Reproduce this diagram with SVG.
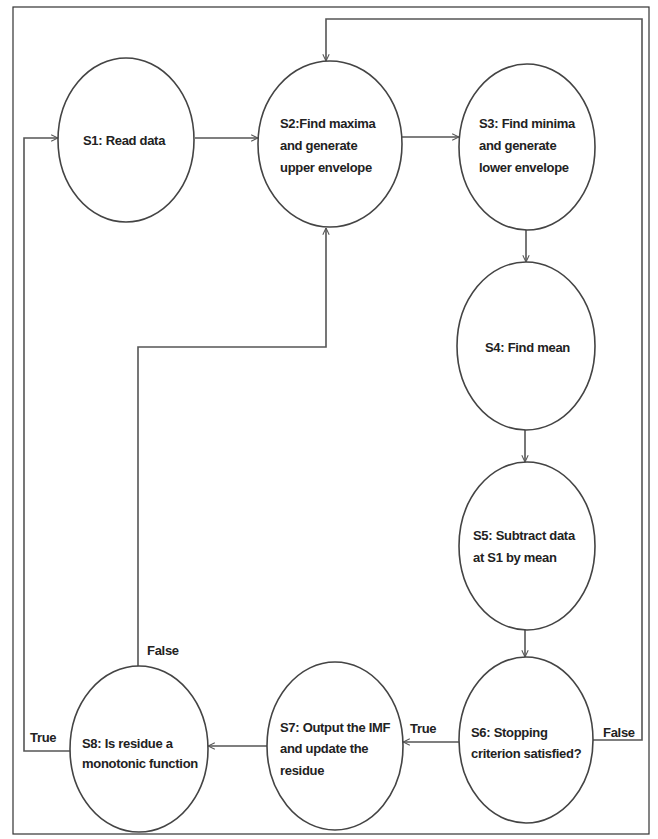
<svg xmlns="http://www.w3.org/2000/svg" width="658" height="839" viewBox="0 0 658 839">
<defs>
<marker id="arr" viewBox="0 0 10 10" refX="9.5" refY="5" markerWidth="8" markerHeight="8" orient="auto" markerUnits="userSpaceOnUse">
<path d="M1,1 L9.5,5 L1,9" fill="none" stroke="#555" stroke-width="1.3"/>
</marker>
</defs>
<style>
.node ellipse{fill:#fff;stroke:#444;stroke-width:1.6}
text{font-family:"Liberation Sans",Arial,sans-serif;font-weight:bold;font-size:13px;letter-spacing:-0.3px;fill:#222}
.conn path{fill:none;stroke:#555;stroke-width:1.6}
</style>
<rect x="0" y="0" width="658" height="839" fill="#fff"/>
<rect x="13" y="7" width="636" height="827" fill="none" stroke="#333" stroke-width="1.2"/>
<g id="connectors" class="conn">
<path d="M195,138 L258,138" marker-end="url(#arr)"/>
<path d="M402,137 L459,137" marker-end="url(#arr)"/>
<path d="M526,230 L526,262" marker-end="url(#arr)"/>
<path d="M525,429 L525,462" marker-end="url(#arr)"/>
<path d="M525,629 L525,657" marker-end="url(#arr)"/>
<path d="M593,740 L642,740 L642,19 L326,19 L326,61" marker-end="url(#arr)"/>
<path d="M459,742 L403,742" marker-end="url(#arr)"/>
<path d="M267,746 L208,746" marker-end="url(#arr)"/>
<path d="M138,667 L138,347 L326,347 L326,228" marker-end="url(#arr)"/>
<path d="M70,751 L24,751 L24,138 L58,138" marker-end="url(#arr)"/>
</g>
<g id="labels">
<text x="603" y="737">False</text>
<text x="410" y="733">True</text>
<text x="30" y="742">True</text>
<text x="147" y="655">False</text>
</g>
<g id="S1" class="node">
<ellipse cx="126" cy="140" rx="68" ry="82"/>
<text x="83" y="145">S1: Read data</text>
</g>
<g id="S2" class="node">
<ellipse cx="330" cy="144" rx="72" ry="83"/>
<text x="280" y="128">S2:Find maxima</text>
<text x="280" y="150">and generate</text>
<text x="280" y="172">upper envelope</text>
</g>
<g id="S3" class="node">
<ellipse cx="527" cy="147" rx="68" ry="83"/>
<text x="479" y="128">S3: Find minima</text>
<text x="479" y="150">and generate</text>
<text x="479" y="172">lower envelope</text>
</g>
<g id="S4" class="node">
<ellipse cx="526" cy="346" rx="69" ry="84"/>
<text x="485" y="352">S4: Find mean</text>
</g>
<g id="S5" class="node">
<ellipse cx="527" cy="546" rx="68" ry="84"/>
<text x="473" y="540">S5: Subtract data</text>
<text x="473" y="562">at S1 by mean</text>
</g>
<g id="S6" class="node">
<ellipse cx="526" cy="740" rx="67" ry="83"/>
<text x="471" y="737">S6: Stopping</text>
<text x="471" y="758">criterion satisfied?</text>
</g>
<g id="S7" class="node">
<ellipse cx="335" cy="746" rx="68" ry="84"/>
<text x="280" y="732">S7: Output the IMF</text>
<text x="280" y="753">and update the</text>
<text x="280" y="775">residue</text>
</g>
<g id="S8" class="node">
<ellipse cx="139" cy="749" rx="69" ry="83"/>
<text x="82" y="748">S8: Is residue a</text>
<text x="82" y="768">monotonic function</text>
</g>
</svg>
